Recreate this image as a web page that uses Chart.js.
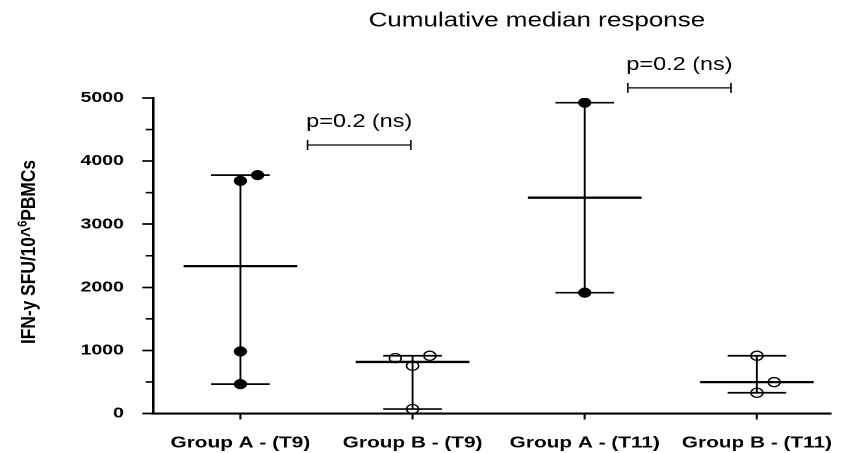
<!DOCTYPE html>
<html>
<head>
<meta charset="utf-8">
<script src="https://cdn.jsdelivr.net/npm/chart.js@4.4.1/dist/chart.umd.min.js"></script>
<style>
  html, body { margin: 0; padding: 0; background: #fff; overflow: hidden; }
  /* the figure is laid out at 655px and widened to the full 851px */
  #wrap { width: 655px; height: 453px; transform: scaleX(1.29924); transform-origin: 0 0; }
</style>
</head>
<body>
<div id="wrap"><canvas id="c" width="655" height="453"></canvas></div>
<script>
// ---- data -------------------------------------------------------------
const categories  = ['Group A - (T9)', 'Group B - (T9)', 'Group A - (T11)', 'Group B - (T11)'];
const groupA_T9   = [465, 984, 3687, 3778];
const groupB_T9   = [70, 756, 915, 878];
const groupA_T11  = [1915, 4926];
const groupB_T11  = [329, 915, 497];
const yMajorTicks = [0, 1000, 2000, 3000, 4000, 5000];
const pValueLabels = ['p=0.2 (ns)', 'p=0.2 (ns)'];
const chartTitle  = 'Cumulative median response';
const yTitleParts = ['IFN-y SFU/10^', '6', 'PBMCs'];

// ---- layout ------------------------------------------------------------
const FONT = '"Liberation Sans", Arial, Helvetica, sans-serif';
const groups = [groupA_T9, groupB_T9, groupA_T11, groupB_T11];
const filledMarker = [true, false, true, false];
const MEDIAN_HALF = 0.33;   // half width of the median bar (x units)
const CAP_HALF = 0.17;      // half width of the range caps
const SPREAD = 0.1;         // sideways step for overlapping points
const comparisons = [
  { from: 1.39, to: 1.99, level: 4255, label: pValueLabels[0] },
  { from: 3.25, to: 3.85, level: 5160, label: pValueLabels[1] }
];

function median(arr) {
  const s = [...arr].sort((a, b) => a - b);
  const n = s.length;
  return n % 2 ? s[(n - 1) / 2] : (s[n / 2 - 1] + s[n / 2]) / 2;
}

// points that sit too close vertically are pushed to alternate sides
function spreadSlots(values) {
  const placed = [];
  let side = 1;
  return values.map(v => {
    let slot = 0;
    if (placed.some(p => Math.abs(p - v) < 200)) { slot = side; side = -side; }
    placed.push(v);
    return slot;
  });
}

const datasets = [];
groups.forEach((vals, i) => {
  const x = i + 1;
  const slots = spreadSlots(vals);
  datasets.push({
    data: vals.map((v, k) => ({ x: x + slots[k] * SPREAD, y: v })),
    showLine: false,
    pointRadius: filledMarker[i] ? 4.9 : 4.6,
    pointBackgroundColor: filledMarker[i] ? '#000' : 'rgba(0,0,0,0)',
    pointBorderColor: '#000',
    pointBorderWidth: filledMarker[i] ? 0.5 : 1.3
  });
});
groups.forEach((vals, i) => {
  const x = i + 1;
  const lo = Math.min(...vals), hi = Math.max(...vals), m = median(vals);
  const seg = (pts, w) => datasets.push({
    data: pts, showLine: true, borderColor: '#000', borderWidth: w,
    pointRadius: 0, pointHoverRadius: 0, pointHitRadius: 0, fill: false
  });
  seg([{ x: x - MEDIAN_HALF, y: m }, { x: x + MEDIAN_HALF, y: m }], 2.3);
  seg([{ x: x - CAP_HALF, y: hi }, { x: x + CAP_HALF, y: hi }], 1.7);
  seg([{ x: x - CAP_HALF, y: lo }, { x: x + CAP_HALF, y: lo }], 1.7);
  seg([{ x: x, y: lo }, { x: x, y: hi }], 1.45);
});

// titles, minor ticks and significance brackets
const decorations = {
  id: 'decorations',
  afterDraw(chart) {
    const ctx = chart.ctx;
    const xs = chart.scales.x, ys = chart.scales.y;
    ctx.save();
    ctx.fillStyle = '#000';
    ctx.strokeStyle = '#000';

    // chart title
    ctx.font = '20px ' + FONT;
    ctx.textAlign = 'center';
    ctx.textBaseline = 'alphabetic';
    ctx.fillText(chartTitle, 413.2, 26.5);

    // minor ticks on the value axis
    ctx.lineWidth = 1.6;
    for (let v = 500; v < 5000; v += 1000) {
      const py = ys.getPixelForValue(v);
      ctx.beginPath();
      ctx.moveTo(ys.right - 5.6, py);
      ctx.lineTo(ys.right, py);
      ctx.stroke();
    }

    // value axis title with raised exponent
    const mainFont = 'bold 17px ' + FONT, supFont = 'bold 11px ' + FONT;
    ctx.font = mainFont;
    const wa = ctx.measureText(yTitleParts[0]).width;
    const wb = ctx.measureText(yTitleParts[2]).width;
    ctx.font = supFont;
    const ws = ctx.measureText(yTitleParts[1]).width;
    const total = wa + ws + wb;
    ctx.save();
    ctx.translate(20.5, 252);
    ctx.rotate(-Math.PI / 2);
    ctx.scale(1.02, 0.92);
    ctx.textAlign = 'left';
    let tx = -total / 2;
    const base = 7;
    ctx.font = mainFont; ctx.fillText(yTitleParts[0], tx, base); tx += wa;
    ctx.font = supFont;  ctx.fillText(yTitleParts[1], tx, base - 7); tx += ws;
    ctx.font = mainFont; ctx.fillText(yTitleParts[2], tx, base);
    ctx.restore();

    // significance brackets
    ctx.lineWidth = 1.2;
    ctx.textAlign = 'center';
    ctx.font = '18px ' + FONT;
    comparisons.forEach(c => {
      const x0 = xs.getPixelForValue(c.from), x1 = xs.getPixelForValue(c.to);
      const py = ys.getPixelForValue(c.level);
      ctx.beginPath();
      ctx.moveTo(x0, py); ctx.lineTo(x1, py);
      ctx.moveTo(x0, py - 5); ctx.lineTo(x0, py + 5);
      ctx.moveTo(x1, py - 5); ctx.lineTo(x1, py + 5);
      ctx.stroke();
      ctx.fillText(c.label, (x0 + x1) / 2, py - 18);
    });
    ctx.restore();
  }
};

Chart.defaults.font.family = FONT;
Chart.defaults.color = '#000';

new Chart(document.getElementById('c'), {
  type: 'scatter',
  data: { datasets },
  options: {
    responsive: false,
    animation: false,
    devicePixelRatio: 2,
    layout: { padding: { top: 98, left: 0, right: 0, bottom: 0 } },
    plugins: { legend: { display: false }, tooltip: { enabled: false }, title: { display: false } },
    scales: {
      x: {
        type: 'linear',
        min: 0.4925,
        max: 4.4286,
        afterBuildTicks: s => { s.ticks = categories.map((_, i) => ({ value: i + 1 })); },
        afterFit: s => { s.height = 39.5; },
        ticks: {
          autoSkip: false, maxRotation: 0, minRotation: 0, padding: 14,
          color: '#000', font: { size: 16, weight: 'bold' },
          callback: v => categories[v - 1]
        },
        grid: { drawOnChartArea: false, tickLength: 6, tickWidth: 1.6, tickColor: '#000' },
        border: { color: '#000', width: 2.1 }
      },
      y: {
        min: 0,
        max: 5000,
        afterFit: s => { s.width = 117.76; },
        ticks: {
          stepSize: 500, autoSkip: false, padding: 14.2,
          color: '#000', font: { size: 15, weight: 'bold' },
          callback: v => yMajorTicks.includes(v) ? String(v) : ''
        },
        grid: {
          drawOnChartArea: false, tickLength: 8.2, tickWidth: 1.7,
          tickColor: c => (c.tick && yMajorTicks.includes(c.tick.value)) ? '#000' : 'rgba(0,0,0,0)'
        },
        border: { color: '#000', width: 1.9 }
      }
    }
  },
  plugins: [decorations]
});
</script>
</body>
</html>
